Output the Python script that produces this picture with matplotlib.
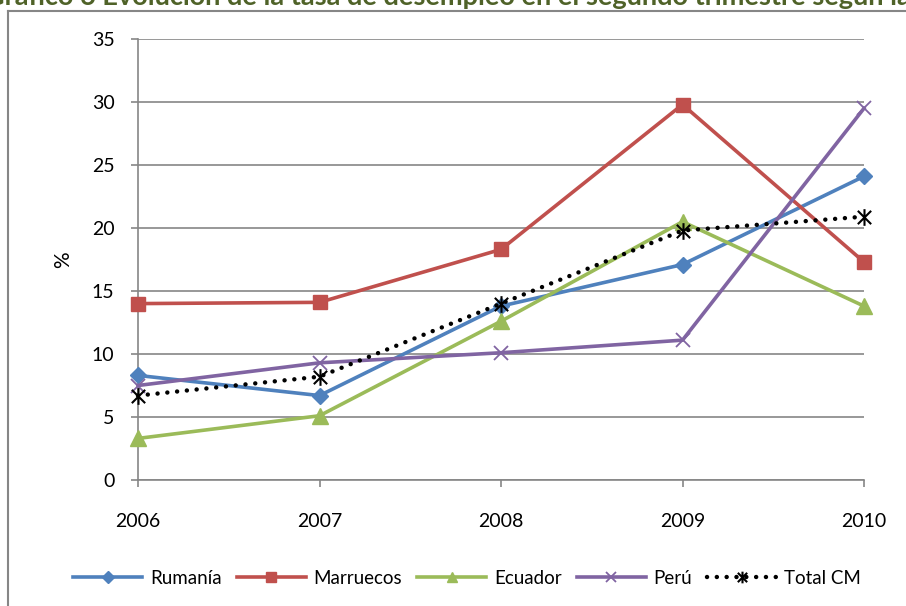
import matplotlib.pyplot as plt
from matplotlib.path import Path
from matplotlib.lines import Line2D

plt.rcParams['font.family'] = ['Lato', 'DejaVu Sans']

# Datos: tasa de desempleo en el segundo trimestre (%)
anios = [2006, 2007, 2008, 2009, 2010]
rumania = [8.3, 6.7, 13.8, 17.1, 24.1]
marruecos = [14.0, 14.1, 18.3, 29.8, 17.3]
ecuador = [3.3, 5.1, 12.6, 20.5, 13.8]
peru = [7.5, 9.3, 10.1, 11.1, 29.5]
total_cm = [6.7, 8.2, 14.0, 19.8, 20.9]

titulo = "Gráfico 6 Evolución de la tasa de desempleo en el segundo trimestre según la nacionalidad"

gris = "#868686"

# marcador "estrella" de Excel: aspa con una raya vertical
estrella = Path([(-1, -1), (1, 1), (-1, 1), (1, -1), (0, -1.25), (0, 1.25)],
                [Path.MOVETO, Path.LINETO, Path.MOVETO, Path.LINETO, Path.MOVETO, Path.LINETO])

fig = plt.figure(figsize=(9.06, 6.06), dpi=100)
ax = fig.add_axes([138 / 906, 1 - 480 / 606, (864 - 138) / 906, (480 - 39) / 606])

ax.plot(anios, rumania, color="#4F81BD", lw=2.6, marker="D", ms=8.5, label="Rumanía", zorder=3, clip_on=False)
ax.plot(anios, marruecos, color="#C0504D", lw=2.6, marker="s", ms=10, label="Marruecos", zorder=3, clip_on=False)
ax.plot(anios, ecuador, color="#9BBB59", lw=2.6, marker="^", ms=11, label="Ecuador", zorder=3, clip_on=False)
ax.plot(anios, peru, color="#8064A2", lw=2.6, marker="x", ms=10, mew=1.3, label="Perú", zorder=3, clip_on=False)
ax.plot(anios, total_cm, color="black", lw=3.2, ls=(0, (0.01, 2.2)), dash_capstyle="round",
        marker=estrella, ms=12, mew=1.5, mfc="none", mec="black", label="Total CM", zorder=4, clip_on=False)

ax.set_xlim(2006, 2010)
ax.set_ylim(0, 35)
ax.set_xticks(anios)
ax.set_yticks(range(0, 36, 5))
ax.yaxis.grid(True, color=gris, lw=1.2)
ax.set_axisbelow(True)
for lado in ["top", "right"]:
    ax.spines[lado].set_visible(False)
ax.spines["left"].set_color(gris)
ax.spines["bottom"].set_color(gris)
ax.spines["left"].set_linewidth(1.2)
ax.spines["bottom"].set_linewidth(1.2)
ax.tick_params(axis="y", length=5, width=1.2, color=gris, pad=12, labelsize=14)
ax.tick_params(axis="x", length=5, width=1.2, color=gris, pad=19, labelsize=14)
ax.set_ylabel("%", fontsize=15, labelpad=13)

ax.legend(loc="center", bbox_to_anchor=(467 / 906, 1 - 578 / 606), bbox_transform=fig.transFigure,
          ncol=5, frameon=False, fontsize=13.5, handlelength=3.7, handletextpad=0.4,
          columnspacing=0.8, markerscale=0.7)

# marco del gráfico y título recortado
fig.add_artist(Line2D([8 / 906, 8 / 906], [0, 1 - 11 / 606], color=gris, lw=1.5))
fig.add_artist(Line2D([8 / 906, 1], [1 - 11 / 606, 1 - 11 / 606], color=gris, lw=1.5))
fig.text(-15 / 906, 1 - 5 / 606, titulo, fontsize=19.5, fontweight="bold", color="#4F6228",
         ha="left", va="baseline")

fig.savefig("out.png", dpi=100)
